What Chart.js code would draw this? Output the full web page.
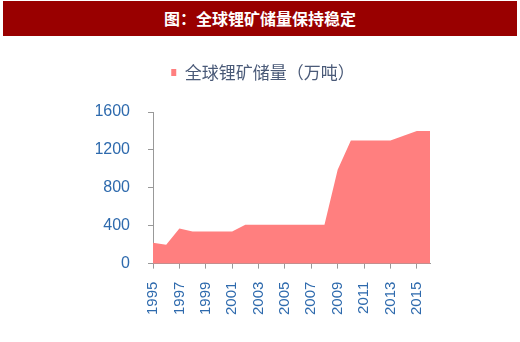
<!DOCTYPE html>
<html>
<head>
<meta charset="utf-8">
<script src="https://cdn.jsdelivr.net/npm/chart.js@4/dist/chart.umd.min.js"></script>
<style>
  html, body { margin:0; padding:0; background:#fff; }
  #wrap { position:relative; width:520px; height:342px; overflow:hidden; }
  #title { position:absolute; left:3px; top:1px; width:514px; height:35px; background:#990000;
    color:#fff; font:bold 16px "Noto Sans CJK SC", sans-serif; line-height:35px; text-align:center; }
  #c { position:absolute; left:0; top:40px; }
</style>
</head>
<body>
<div id="wrap">
  <div id="title">图：全球锂矿储量保持稳定</div>
  <canvas id="c" width="520" height="302"></canvas>
</div>
<script>
// years and reserves (10k tonnes)
const years = ['1995','1996','1997','1998','1999','2000','2001','2002','2003','2004','2005',
  '2006','2007','2008','2009','2010','2011','2012','2013','2014','2015','2016'];
const reserves = [220, 200, 370, 340, 340, 340, 340, 410, 410, 410, 410,
  410, 410, 410, 990, 1300, 1300, 1300, 1300, 1350, 1400, 1400];
const seriesName = '全球锂矿储量（万吨）';
const yTicks = [0, 400, 800, 1200, 1600];

const tickColor = '#2e6aad';
const axisColor = '#999999';

// extra room under the legend
const legendGap = {
  id: 'legendGap',
  beforeInit(chart) {
    const fit = chart.legend.fit;
    chart.legend.fit = function() { fit.bind(chart.legend)(); this.height += 21; };
  }
};

new Chart(document.getElementById('c'), {
  type: 'line',
  data: {
    labels: years,
    datasets: [{
      label: seriesName,
      data: reserves,
      backgroundColor: '#ff7f7f',
      borderColor: '#ff7f7f',
      borderWidth: 0,
      pointRadius: 0,
      fill: 'origin',
      tension: 0
    }]
  },
  plugins: [legendGap],
  options: {
    responsive: false,
    animation: false,
    layout: { padding: { left: 96, right: 90, top: 4, bottom: 14 } },
    plugins: {
      tooltip: { enabled: false },
      legend: {
        display: true,
        position: 'top',
        labels: {
          boxWidth: 5, boxHeight: 7, padding: 20,
          color: '#4a5a78',
          font: { family: '"Noto Sans CJK SC", sans-serif', size: 17 }
        }
      }
    },
    scales: {
      x: {
        offset: false,
        grid: { display: true, drawOnChartArea: false, drawTicks: true, tickLength: 5, color: axisColor },
        border: { display: true, color: axisColor },
        ticks: {
          autoSkip: false, maxRotation: 90, minRotation: 90, padding: 13,
          color: tickColor,
          font: { family: '"Liberation Sans", Arial, sans-serif', size: 15 },
          callback: function(v, i){ return i % 2 === 0 ? years[i] : null; }
        }
      },
      y: {
        min: 0, max: 1600,
        afterBuildTicks: function(ax){ ax.ticks = yTicks.map(v => ({ value: v })); },
        afterFit: function(ax){ ax.width = 57; },
        grid: { display: true, drawOnChartArea: false, drawTicks: true, tickLength: 5, color: axisColor },
        border: { display: true, color: axisColor },
        ticks: {
          padding: 18, color: tickColor,
          font: { family: '"Liberation Sans", Arial, sans-serif', size: 16 },
          callback: function(v){ return String(v); }
        }
      }
    }
  }
});
</script>
</body>
</html>
